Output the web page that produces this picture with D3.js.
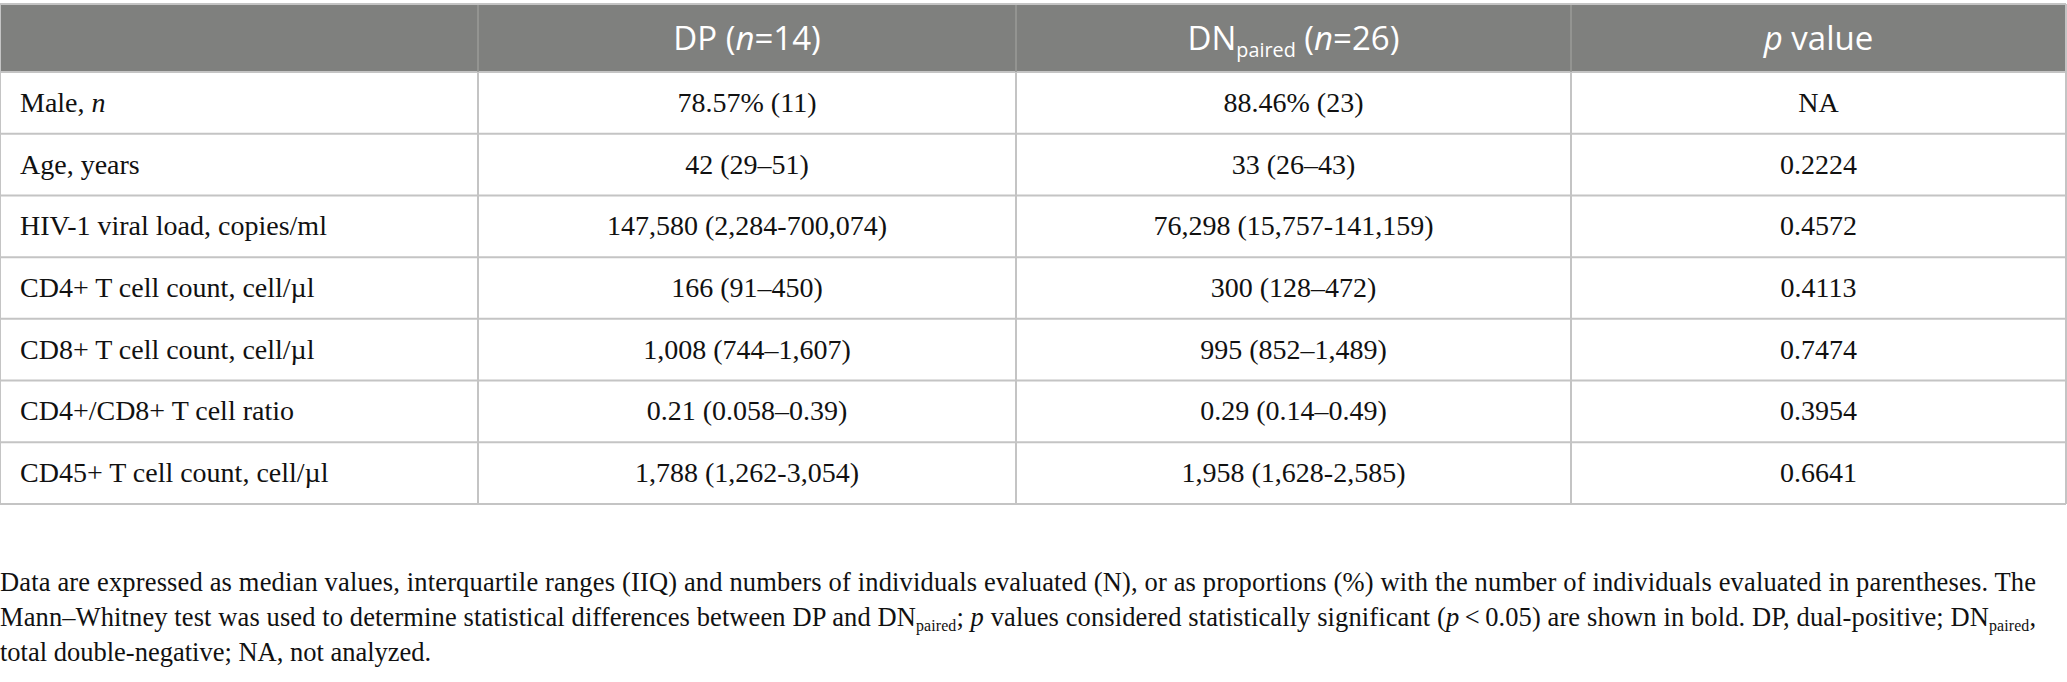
<!DOCTYPE html>
<html lang="en">
<head>
<meta charset="UTF-8">
<title>DP vs DN paired</title>
<script src="https://d3js.org/d3.v7.min.js"></script>
<style>
    body { margin: 0; background: #fff; }
    .cell { font-family: "Liberation Serif", serif; font-size: 28px; fill: #111; }
    .head { font-family: "Open Sans", sans-serif; font-size: 33px; fill: #fff; }
    .note { font-family: "Liberation Serif", serif; font-size: 26.5px; fill: #111; }
</style>
</head>
<body>
<div id="chart"></div>
<script>
// table content
const rowLabels = [
    ["Male, ", "n"],
    ["Age, years"],
    ["HIV-1 viral load, copies/ml"],
    ["CD4+ T cell count, cell/µl"],
    ["CD8+ T cell count, cell/µl"],
    ["CD4+/CD8+ T cell ratio"],
    ["CD45+ T cell count, cell/µl"]
];
const dpValues = ["78.57% (11)", "42 (29–51)", "147,580 (2,284-700,074)", "166 (91–450)",
    "1,008 (744–1,607)", "0.21 (0.058–0.39)", "1,788 (1,262-3,054)"];
const dnValues = ["88.46% (23)", "33 (26–43)", "76,298 (15,757-141,159)", "300 (128–472)",
    "995 (852–1,489)", "0.29 (0.14–0.49)", "1,958 (1,628-2,585)"];
const pValues = ["NA", "0.2224", "0.4572", "0.4113", "0.7474", "0.3954", "0.6641"];

// header pieces: [text, style] with style "" | "i" | "sub"
const headers = [
    [],
    [["DP (", ""], ["n", "i"], ["=14)", ""]],
    [["DN", ""], ["paired", "sub"], [" (", ""], ["n", "i"], ["=26)", ""]],
    [["p", "i"], [" value", ""]]
];

const noteLines = [
    [["Data are expressed as median values, interquartile ranges (IIQ) and numbers of individuals evaluated (N), or as proportions (%) with the number of individuals evaluated in parentheses. The", ""]],
    [["Mann–Whitney test was used to determine statistical differences between DP and DN", ""], ["paired", "sub"],
     ["; ", ""], ["p", "i"], [" values considered statistically significant (", ""], ["p", "i"],
     ["\u2009<\u20090.05) are shown in bold. DP, dual-positive; DN", ""], ["paired", "sub"], [",", ""]],
    [["total double-negative; NA, not analyzed.", ""]]
];

const W = 2067, H = 682;
const colKeys = ["label", "dp", "dn", "p"];
const colEdges = [0, 478, 1016, 1571, 2066];
const tableTop = 4, headBottom = 72, tableBottom = 504;

const svg = d3.select("#chart").append("svg")
    .attr("width", W).attr("height", H);

const xLeft = d3.scaleOrdinal().domain(colKeys).range(colEdges.slice(0, 4));
const xRight = d3.scaleOrdinal().domain(colKeys).range(colEdges.slice(1));
const y = d3.scaleBand().domain(d3.range(rowLabels.length)).range([headBottom, tableBottom]);

// header
svg.append("rect")
    .attr("x", 0).attr("y", tableTop)
    .attr("width", colEdges[4]).attr("height", headBottom - tableTop)
    .attr("fill", "#7f807e");

// horizontal row lines
svg.selectAll("line.h")
    .data(d3.range(rowLabels.length + 1))
    .enter().append("line")
    .attr("x1", 0).attr("x2", colEdges[4])
    .attr("y1", d => y(d) === undefined ? tableBottom : y(d))
    .attr("y2", d => y(d) === undefined ? tableBottom : y(d))
    .attr("stroke", "#c4c4c4").attr("stroke-width", 2);

// vertical lines
svg.selectAll("line.v")
    .data(colEdges)
    .enter().append("line")
    .attr("x1", d => d).attr("x2", d => d)
    .attr("y1", (d, i) => (i === 0 || i === 4) ? tableTop : headBottom)
    .attr("y2", tableBottom)
    .attr("stroke", "#c4c4c4").attr("stroke-width", 2);
svg.selectAll("line.hv")
    .data(colEdges.slice(1, 4))
    .enter().append("line")
    .attr("x1", d => d).attr("x2", d => d)
    .attr("y1", tableTop).attr("y2", headBottom)
    .attr("stroke", "#9a9b99").attr("stroke-width", 1.5);
svg.append("line")
    .attr("x1", 0).attr("x2", colEdges[4])
    .attr("y1", tableTop).attr("y2", tableTop)
    .attr("stroke", "#c4c4c4").attr("stroke-width", 2);

function addSpans(text, parts, subShift) {
    parts.forEach(([t, s]) => {
        const sp = text.append("tspan").text(t);
        if (s === "i") sp.attr("font-style", "italic");
        if (s === "sub") sp.attr("font-size", "60%").attr("baseline-shift", subShift);
    });
}

// header text
headers.forEach((parts, i) => {
    if (!parts.length) return;
    const k = colKeys[i];
    const t = svg.append("text").attr("class", "head")
        .attr("x", (xLeft(k) + xRight(k)) / 2).attr("y", 50)
        .attr("text-anchor", "middle");
    addSpans(t, parts, "-7px");
});

// body cells
const mid = i => y(i) + y.bandwidth() / 2 + 9;
rowLabels.forEach((parts, i) => {
    const t = svg.append("text").attr("class", "cell")
        .attr("x", xLeft("label") + 20).attr("y", mid(i));
    addSpans(t, parts.map((p, j) => [p, j === 1 ? "i" : ""]), "0");
});
[["dp", dpValues], ["dn", dnValues], ["p", pValues]].forEach(([k, vals]) => {
    svg.selectAll(null).data(vals).enter().append("text")
        .attr("class", "cell")
        .attr("x", (xLeft(k) + xRight(k)) / 2)
        .attr("y", (d, i) => mid(i))
        .attr("text-anchor", "middle")
        .text(d => d);
});

// footnote
const noteY = [591, 626, 661];
noteLines.forEach((parts, i) => {
    const t = svg.append("text").attr("class", "note")
        .attr("x", 0).attr("y", noteY[i]);
    addSpans(t, parts, "-5px");
    if (i < 2) {
        t.attr("textLength", 2036).attr("lengthAdjust", "spacing");
    }
});
</script>
</body>
</html>
